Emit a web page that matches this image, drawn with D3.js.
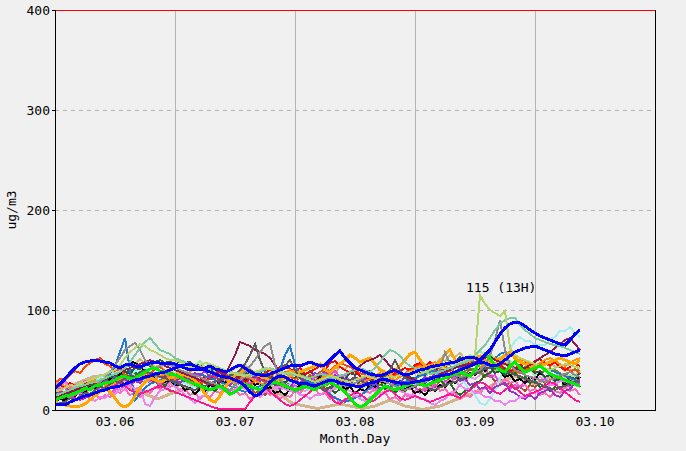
<!DOCTYPE html>
<html><head><meta charset="utf-8">
<script src="https://cdn.jsdelivr.net/npm/d3@7/dist/d3.min.js"></script>
<style>
html,body{margin:0;padding:0;background:#f0f0f0;}
svg{display:block;}
text{font-family:"DejaVu Sans Mono",monospace;font-size:13px;fill:#000;}
</style></head><body>
<svg id="chart" width="686" height="451"></svg>
<script>
// ---- data (hourly values from 03.06 00H) ----
const dayLabels = ["03.06","03.07","03.08","03.09","03.10"];
const yTicks = [0,100,200,300,400];

const blueA = [22,26,31,37,42,46,48,49,50,49,48,47,44,42,45,46,44,43,45,47,48,47,46,47,
 46,44,42,40,41,40,42,44,41,40,38,40,43,45,42,38,36,35,34,36,38,40,42,44,
 45,44,46,48,46,44,45,50,55,59,52,47,42,40,38,36,35,34,36,38,40,37,35,36,
 38,40,41,43,44,45,46,47,48,50,52,53,52,50,55,60,68,76,82,86,88,87,84,80,
 77,74,72,70,68,66,65,70,76,80];
const blueB = [5,6,5,8,10,12,14,15,17,19,20,22,23,24,26,28,30,31,33,34,36,37,38,40,
 42,44,45,46,44,42,40,38,36,34,33,32,30,28,24,18,14,16,22,28,32,34,33,30,
 28,26,27,25,24,26,28,30,29,27,26,25,24,23,25,27,28,30,31,29,28,27,26,27,
 28,29,30,31,33,34,35,36,38,40,42,44,46,48,47,45,44,46,50,54,58,60,62,63,
 64,62,60,58,56,55,54,56,58,60];
const green = [10,12,14,15,17,19,22,20,24,25,27,28,30,33,34,31,32,35,38,41,42,39,38,36,
 35,33,30,28,26,24,22,20,22,24,20,16,18,22,26,24,22,20,24,26,28,26,24,22,
 20,22,24,22,20,24,26,28,25,22,18,12,6,3,5,10,15,20,24,22,20,22,24,26,
 28,26,24,26,28,30,32,34,36,38,36,34,40,48,56,52,44,40,38,44,48,42,38,40,
 42,44,40,36,34,32,30,28,26,24];
const yellowGreen = [18,20,22,25,24,26,28,30,32,34,36,38,40,45,52,58,62,66,64,60,58,55,52,50,
 50,48,46,44,42,45,47,46,44,42,40,38,36,35,34,36,38,40,42,41,39,37,36,38,
 36,34,32,30,28,30,32,34,33,31,29,28,30,32,34,33,31,30,32,34,33,35,36,38,
 37,36,38,40,42,44,45,46,47,48,50,52,54,115,106,100,97,94,99,62,55,52,50,48,
 46,44,42,40,42,44,46,45,43,42];
const aquamarine = [15,16,18,20,22,24,25,27,28,30,32,34,36,38,42,48,55,62,68,72,66,60,58,56,
 52,50,48,45,44,42,40,41,43,42,40,38,37,36,35,34,36,38,40,42,40,38,37,36,
 35,34,33,32,34,36,35,33,32,34,36,38,40,42,40,38,42,48,55,60,58,54,48,44,
 42,40,38,36,37,38,40,42,44,46,48,50,55,60,65,72,80,86,90,92,92,85,80,76,
 72,70,68,66,65,64,62,60,58,56];
const gray = [10,12,14,13,15,18,20,22,24,28,32,38,45,52,60,64,67,60,50,45,42,44,46,45,
 43,40,38,36,35,33,30,28,26,24,22,20,25,30,38,44,50,58,64,67,45,30,25,22,
 18,20,22,24,26,28,30,32,28,26,24,25,27,30,33,35,32,30,28,26,24,22,20,22,
 24,26,28,30,32,40,58,45,35,33,34,36,38,40,45,55,70,90,60,45,40,38,35,33,
 32,30,28,30,32,34,36,38,35,33];
const dimGray = [5,7,8,12,10,14,17,16,20,23,22,26,29,27,32,35,33,38,40,37,36,33,32,29,
 28,25,24,21,20,23,24,27,28,31,32,35,36,40,46,55,66,50,38,32,30,36,44,50,
 40,32,28,26,23,22,19,22,25,26,29,30,33,30,27,26,29,30,34,40,50,40,32,30,
 28,25,24,21,20,23,24,27,28,31,32,35,36,38,41,42,45,42,39,38,35,34,31,30,
 27,26,23,22,20,23,24,27,28,31];
const maroon = [12,14,16,18,20,22,24,26,28,30,32,34,36,38,40,42,44,46,48,50,48,46,44,42,
 40,38,36,34,32,30,28,26,24,28,35,45,55,68,66,64,60,58,56,52,45,38,32,30,
 28,26,24,22,24,26,28,30,32,34,36,38,40,44,48,50,52,55,50,44,40,36,34,32,
 30,28,30,32,34,36,38,40,42,44,45,46,48,50,52,54,50,48,46,44,42,40,42,45,
 48,52,55,58,62,66,70,72,66,60];
const orange = [8,6,5,4,3,4,6,10,14,18,22,18,12,5,3,6,14,22,28,32,30,28,30,32,
 34,36,35,33,30,24,16,10,8,14,22,30,35,38,40,38,36,34,32,30,28,30,32,34,
 36,38,40,42,44,46,40,38,42,46,50,55,52,48,50,52,46,40,38,36,40,44,50,56,
 58,50,44,42,44,48,56,60,50,46,48,50,52,54,50,48,46,50,55,58,52,48,46,44,
 42,44,46,48,50,52,50,48,46,50];
const darkOrange = [25,27,24,22,20,23,25,28,30,27,25,24,28,31,33,30,29,32,35,33,31,34,36,33,
 31,33,36,38,42,44,41,38,36,33,31,29,27,30,34,32,29,27,25,28,31,34,37,40,
 38,35,33,30,28,31,34,36,33,30,28,25,23,26,29,31,34,37,35,32,30,33,36,39,
 41,44,42,45,48,46,43,41,44,47,50,48,45,43,46,49,52,50,47,45,48,51,49,46,
 44,47,50,52,49,46,44,47,50,52];
const deepPink = [20,18,16,14,12,10,12,14,16,18,20,22,25,28,24,20,18,16,18,20,22,24,22,20,
 18,16,14,12,10,8,6,4,2,1,1,1,1,1,1,8,14,18,22,18,14,10,6,4,
 6,10,14,18,22,25,20,14,8,6,10,14,18,16,12,8,10,14,18,20,16,12,10,12,
 14,12,10,8,10,12,14,16,14,12,16,20,24,28,26,22,18,16,20,24,22,18,14,16,
 18,20,24,28,26,22,18,14,10,8];
const violet = [28,25,27,21,23,17,15,11,9,13,12,17,16,21,20,25,21,23,6,4,13,19,21,27,
 23,21,15,11,7,13,15,21,23,21,19,15,21,23,21,19,15,13,19,19,23,23,21,19,
 19,15,15,11,15,15,19,19,23,23,19,15,15,11,9,13,13,17,17,21,21,19,17,15,
 15,11,11,7,5,9,11,17,19,25,21,21,17,17,13,13,9,9,5,9,9,13,13,17,
 17,21,21,25,25,29,29,27,25,23];
const darkViolet = [15,18,17,22,19,16,21,20,25,24,29,28,33,29,31,25,29,27,33,31,37,33,35,29,
 31,27,33,31,37,35,39,33,35,29,31,25,29,27,33,31,35,29,31,25,27,21,25,23,
 29,27,33,31,37,35,39,33,35,29,31,25,31,29,31,25,27,21,25,23,29,27,33,29,
 31,27,33,31,37,35,39,33,35,29,31,25,27,21,23,17,23,25,27,19,17,13,11,15,
 11,17,19,21,15,13,19,21,27,29];
const tan = [20,22,24,25,26,28,30,32,34,33,32,30,28,26,24,22,20,18,16,14,12,12,14,16,
 18,20,22,24,26,28,30,32,34,36,38,40,42,45,44,40,36,32,28,24,20,16,12,8,
 6,5,4,3,2,2,3,4,5,6,5,4,3,2,2,3,4,6,8,10,8,6,4,3,
 2,1,1,2,3,4,6,8,10,12,14,16,18,20,22,24,26,28,30,32,34,32,30,28,
 26,28,30,32,34,36,34,32,30,28];
const dodgerBlue = [12,14,16,18,20,22,24,26,28,30,32,36,44,58,72,40,10,16,22,26,28,30,32,34,
 26,28,30,32,34,36,34,32,30,28,26,24,22,20,18,20,22,24,26,28,30,40,55,64,
 45,35,30,28,26,24,20,16,12,10,8,10,12,14,18,22,26,30,28,26,24,26,28,30,
 32,34,36,38,40,38,36,34,38,42,46,50,48,46,44,48,52,56,58,56,54,52,50,48,
 46,44,42,40,38,36,34,32,30,28];
const red = [22,25,23,27,24,21,26,29,26,24,27,22,25,28,26,31,33,30,34,31,28,30,33,31,
 35,32,29,31,27,30,34,31,37,39,35,33,30,33,28,31,34,32,37,40,38,43,45,41,
 39,42,36,38,41,44,40,47,49,43,40,37,39,34,31,33,28,31,35,33,37,39,42,40,
 45,47,44,48,43,41,39,42,37,41,45,49,53,48,50,46,43,45,41,38,42,44,47,45,
 49,51,47,45,48,43,40,43,46,44];
const orangeRed = [26,31,30,35,39,37,43,47,50,52,46,44,39,41,35,34,31,35,37,36,41,43,39,38,
 35,37,32,29,31,26,29,31,33,30,36,33,31,29,27,25,29,31,28,34,37,35,38,33,
 31,34,30,35,33,38,41,39,44,47,45,43,40,37,35,31,33,28,31,29,35,37,36,41,
 43,45,41,44,38,37,40,39,43,46,44,49,51,53,48,50,45,44,47,41,39,37,40,42,
 40,45,47,44,48,43,42,39,40,37];
const slateGray = [18,15,16,14,19,18,22,21,26,25,30,28,34,33,38,36,42,41,46,44,48,50,47,49,
 45,49,47,48,44,45,40,42,36,38,32,34,31,36,35,40,37,38,33,35,29,31,27,33,
 32,37,35,39,33,35,29,31,28,33,31,37,35,41,37,39,33,35,29,31,25,29,27,33,
 31,37,35,41,39,45,43,49,47,53,49,51,45,47,41,43,37,39,35,41,39,45,41,43,
 37,39,33,35,29,31,27,33,31,37];
const black = [8,11,10,15,14,19,18,23,22,27,26,31,30,36,41,49,47,44,38,37,31,34,28,30,
 24,26,20,22,16,21,19,25,23,29,27,33,31,35,29,31,25,27,21,23,17,19,15,21,
 19,25,23,29,27,33,29,31,25,27,21,23,17,21,19,25,23,29,27,31,25,27,21,23,
 17,19,15,21,19,25,23,29,27,33,31,37,35,41,39,43,37,39,33,35,29,31,27,33,
 31,37,33,35,29,31,25,29,27,33];
const paleCyan = [14,17,16,21,20,25,24,29,28,33,32,37,36,41,37,35,39,38,43,39,37,35,33,31,
 31,27,27,23,23,19,23,23,27,27,31,27,27,23,23,19,23,23,27,27,31,31,29,27,
 27,23,23,19,23,23,27,27,31,31,29,27,27,23,23,23,27,27,31,31,35,31,31,27,
 27,27,31,31,35,35,39,35,35,29,27,19,15,7,5,11,19,31,44,61,69,73,69,69,
 65,65,65,71,73,79,79,83,77,73];
const darkGreen = [10,13,12,17,16,21,20,25,24,29,28,33,32,37,36,41,37,38,32,34,28,30,24,29,
 27,33,29,31,25,27,21,23,19,25,23,29,27,33,31,37,33,35,29,31,25,27,21,23,
 19,25,23,29,25,27,21,23,17,21,19,25,23,29,27,31,25,27,21,23,17,21,19,25,
 23,29,27,33,29,31,25,27,19,15,19,21,27,29,35,37,43,39,41,35,37,31,33,27,
 29,23,25,19,23,21,27,25,29,23];
const magenta = [24,21,22,18,25,24,29,25,27,20,22,17,21,20,25,24,29,28,33,29,31,25,29,27,
 33,31,37,33,35,29,31,25,27,21,23,19,25,23,29,27,33,29,31,25,27,21,23,19,
 25,23,29,27,33,31,37,35,39,33,35,29,31,25,27,21,23,19,25,23,29,25,27,21,
 23,17,21,19,25,23,29,27,33,31,37,35,41,39,43,33,35,25,27,21,25,23,29,27,
 33,29,31,25,27,21,25,23,29,27];
const hotPink = [30,27,29,23,25,19,21,15,17,11,15,13,19,17,21,15,17,13,19,17,23,21,27,23,
 25,19,21,15,17,11,15,13,19,17,23,19,21,15,17,11,15,13,19,15,17,11,15,13,
 19,17,23,19,21,15,17,11,13,7,11,9,15,13,19,17,21,15,17,11,13,9,15,13,
 19,17,23,21,27,19,21,15,17,11,15,13,19,17,23,21,27,25,31,27,29,23,25,19,
 21,15,17,13,19,17,23,19,21,15];
const khaki = [16,19,18,23,22,27,26,31,30,35,34,39,38,43,42,47,46,51,47,49,43,45,39,41,
 35,39,37,43,41,45,39,41,35,37,31,33,27,29,23,27,25,31,29,35,33,39,35,37,
 31,33,27,31,29,35,33,39,37,43,41,45,39,41,35,37,31,33,27,31,29,35,33,39,
 37,43,41,47,45,51,49,55,53,57,51,53,47,49,43,45,39,41,35,37,33,39,37,43,
 41,47,45,49,43,45,39,41,35,37];
const lightGreen = [12,15,14,19,18,23,22,27,26,31,30,35,34,39,37,40,34,36,30,32,29,35,33,39,
 37,43,41,47,45,49,43,45,39,41,35,37,31,33,27,31,29,35,33,39,37,41,35,37,
 31,33,27,29,23,27,25,31,29,35,33,39,37,41,35,37,31,33,27,29,23,27,25,31,
 29,35,33,39,37,43,41,47,45,51,49,55,53,59,55,57,51,53,47,49,43,45,39,41,
 35,37,31,33,27,31,29,35,33,39];
const sienna = [25,23,24,20,22,18,23,22,27,26,31,30,35,34,39,35,37,31,33,27,29,23,25,19,
 17,21,19,25,23,29,27,33,31,35,29,31,25,27,21,23,17,19,15,21,19,25,23,29,
 27,33,31,35,29,31,25,27,21,23,19,25,23,29,27,33,31,35,29,31,25,27,21,23,
 17,21,19,25,23,29,27,33,31,37,35,41,37,39,33,35,29,31,25,27,21,23,19,25,
 23,29,27,33,31,35,29,31,25,27];
const plum = [9,12,10,14,17,15,19,22,20,24,27,25,23,26,29,27,31,34,30,28,32,35,33,30,
 28,31,29,26,24,27,30,28,25,23,26,29,31,28,26,24,21,24,27,25,22,20,23,26,
 24,21,19,22,25,23,20,18,21,24,22,19,17,20,23,21,18,16,19,22,25,23,20,22,
 25,28,26,23,21,24,27,30,28,25,29,33,31,35,38,36,33,30,28,31,34,32,29,27,
 30,33,31,28,26,29,32,35,33,30];
const oliveDrab = [14,13,16,19,17,20,23,21,24,27,30,28,31,34,32,35,38,36,33,31,34,37,35,32,
 30,33,36,34,31,29,32,35,33,30,28,31,34,32,29,27,30,33,31,28,26,29,32,30,
 27,25,28,31,29,26,24,27,30,28,25,23,26,29,27,24,22,25,28,26,23,25,28,31,
 29,26,24,27,30,33,36,34,31,35,39,42,40,37,35,38,41,44,42,39,37,40,43,41,
 38,36,39,42,40,37,35,38,41,39];

const seriesList = [
  {name:"khaki", values:khaki, color:"#c8b878", w:2},
  {name:"sienna", values:sienna, color:"#a0522d", w:2},
  {name:"plum", values:plum, color:"#dda0dd", w:2},
  {name:"oliveDrab", values:oliveDrab, color:"#6b8e23", w:2},
  {name:"lightGreen", values:lightGreen, color:"#9ee89e", w:2},
  {name:"tan", values:tan, color:"#d2b48c", w:3},
  {name:"hotPink", values:hotPink, color:"#ff69b4", w:2},
  {name:"magenta", values:magenta, color:"#ee44ee", w:2},
  {name:"darkGreen", values:darkGreen, color:"#1e6e1e", w:2},
  {name:"paleCyan", values:paleCyan, color:"#a0eeee", w:2},
  {name:"black", values:black, color:"#000000", w:2},
  {name:"slateGray", values:slateGray, color:"#2f4f4f", w:2},
  {name:"orangeRed", values:orangeRed, color:"#ff4500", w:2},
  {name:"red", values:red, color:"#ff0000", w:2},
  {name:"dodgerBlue", values:dodgerBlue, color:"#1e78d2", w:2},
  {name:"darkViolet", values:darkViolet, color:"#9932cc", w:2},
  {name:"violet", values:violet, color:"#ee82ee", w:2},
  {name:"deepPink", values:deepPink, color:"#ff1493", w:2},
  {name:"darkOrange", values:darkOrange, color:"#ff8c00", w:2},
  {name:"orange", values:orange, color:"#ffa500", w:3},
  {name:"maroon", values:maroon, color:"#8b1a4a", w:2},
  {name:"dimGray", values:dimGray, color:"#5a5a5a", w:2},
  {name:"gray", values:gray, color:"#8c8c8c", w:2},
  {name:"aquamarine", values:aquamarine, color:"#78c8a0", w:2},
  {name:"yellowGreen", values:yellowGreen, color:"#b4d46c", w:2},
  {name:"green", values:green, color:"#00ee00", w:3},
  {name:"blueB", values:blueB, color:"#0000ff", w:3},
  {name:"blueA", values:blueA, color:"#0000ff", w:3}
];

// ---- layout ----
const svg = d3.select("#chart");
const L = 55, R = 655, T = 10, B = 410;
const x = d3.scaleLinear().domain([0, 120]).range([L, R]);
const y = d3.scaleLinear().domain([0, 400]).range([B, T]);

svg.append("rect").attr("width",686).attr("height",451).attr("fill","#f0f0f0");

// grid
svg.append("g").selectAll("line").data([100,200,300]).join("line")
  .attr("x1",L).attr("x2",R).attr("y1",d=>y(d)+0.5).attr("y2",d=>y(d)+0.5)
  .attr("stroke","#b4b4b4").attr("stroke-dasharray","4,4").attr("shape-rendering","crispEdges");
svg.append("g").selectAll("line").data([24,48,72,96]).join("line")
  .attr("x1",d=>x(d)+0.5).attr("x2",d=>x(d)+0.5).attr("y1",T).attr("y2",B)
  .attr("stroke","#b4b4b4").attr("shape-rendering","crispEdges");

// lines
const line = d3.line().x((d,i)=>x(i)).y(d=>y(d));
svg.append("clipPath").attr("id","clip").append("rect")
  .attr("x",L).attr("y",T).attr("width",R-L).attr("height",B-T);
const lg = svg.append("g").attr("clip-path","url(#clip)");
lg.selectAll("path").data(seriesList).join("path")
  .attr("d",d=>line(d.values)).attr("fill","none")
  .attr("stroke",d=>d.color).attr("stroke-width",d=>d.w)
  .attr("stroke-linejoin","miter").attr("shape-rendering","crispEdges");

// frame
svg.append("line").attr("x1",L).attr("x2",R).attr("y1",T+0.5).attr("y2",T+0.5).attr("stroke","#ff0000").attr("shape-rendering","crispEdges");
svg.append("line").attr("x1",L+0.5).attr("x2",L+0.5).attr("y1",T).attr("y2",B).attr("stroke","#000").attr("shape-rendering","crispEdges");
svg.append("line").attr("x1",R+0.5).attr("x2",R+0.5).attr("y1",T).attr("y2",B+1).attr("stroke","#000").attr("shape-rendering","crispEdges");
svg.append("line").attr("x1",L).attr("x2",R+1).attr("y1",B+0.5).attr("y2",B+0.5).attr("stroke","#000").attr("shape-rendering","crispEdges");

// y axis ticks + labels
const yAxis = d3.axisLeft(y).tickValues(yTicks).tickSize(3).tickPadding(2).tickFormat(d3.format("d"));
const yg = svg.append("g").attr("transform",`translate(${L},0)`).call(yAxis);
yg.select(".domain").remove();
yg.selectAll("text").style("font-family","DejaVu Sans Mono").style("font-size","13px").attr("fill","#000");
yg.selectAll("line").attr("stroke","#000");

// x labels at noon of each day
const xg = svg.append("g");
xg.selectAll("text").data(dayLabels).join("text")
  .attr("x",(d,i)=>x(12+24*i)).attr("y",B+16).attr("text-anchor","middle").text(d=>d);

// axis titles
svg.append("text").attr("x",x(60)).attr("y",B+33).attr("text-anchor","middle").text("Month.Day");
svg.append("text").attr("transform",`translate(16,${(T+B)/2}) rotate(-90)`).attr("text-anchor","middle").text("ug/m3");

// max annotation
let best = {v:-1,i:0};
seriesList.forEach(s=>s.values.forEach((v,i)=>{ if(v>best.v) best={v,i}; }));
svg.append("text").attr("x",x(best.i)-14).attr("y",y(best.v)-3)
  .text(`${best.v} (${best.i%24}H)`);
</script>
</body></html>
